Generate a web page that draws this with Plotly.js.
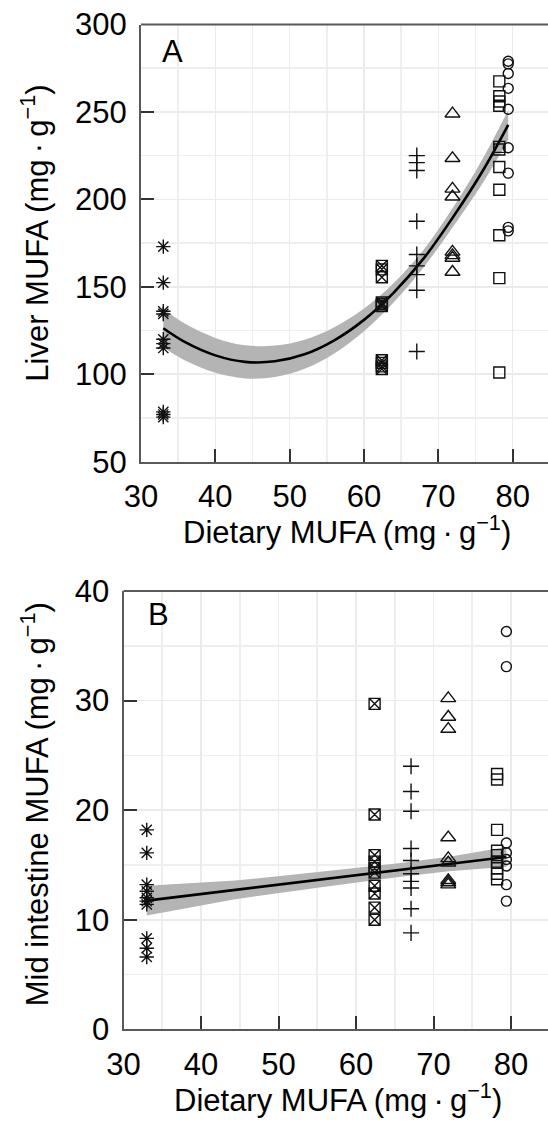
<!DOCTYPE html>
<html>
<head>
<meta charset="utf-8">
<script src="https://cdn.plot.ly/plotly-3.0.1.min.js"></script>
<style>html,body{margin:0;padding:0;background:#fff;}#chart{width:548px;height:1122px;}</style>
</head>
<body>
<div id="chart"></div>
<script>
// Dietary MUFA level of each diet group (mg/g)
const dietaryMUFA = [33.0, 62.4, 67.1, 71.9, 78.2, 79.4];
const groupSymbols = ['asterisk-open', 'square-x-open', 'cross-thin-open', 'triangle-up-open', 'square-open', 'circle-open'];

// Panel A: Liver MUFA (mg/g) per diet group
const liverG1 = [173, 152.4, 136, 134.5, 120, 117.5, 115, 78.5, 77, 75.5];
const liverG2 = [162, 160, 155.5, 141, 140, 139, 108, 106.5, 104.5, 103];
const liverG3 = [225, 221, 216.5, 187.5, 168.5, 162, 157, 148, 113];
const liverG4 = [249, 223.5, 206, 201.5, 170, 168, 166.5, 158.5];
const liverG5 = [267.5, 259, 256, 253.5, 230, 228.5, 218.5, 205.5, 179.5, 155, 101];
const liverG6 = [279, 277.5, 272, 263.5, 251.5, 229.5, 215, 184, 182];

// Panel A fitted quadratic curve and confidence band
const fitAx  = [33, 36, 40, 44, 48, 52, 56, 60, 64, 68, 72, 76, 79.4];
const fitAy  = [126.3, 118.2, 110.8, 107.1, 107.4, 111.4, 119.4, 131.1, 146.7, 166.1, 190.0, 216.5, 242.6];
const fitAlo = [115.3, 107.7, 100.8, 97.6, 98.4, 103.1, 111.9, 124.6, 141.2, 161.1, 184.5, 209.5, 234.1];
const fitAhi = [137.3, 128.7, 120.8, 116.6, 116.4, 119.7, 126.9, 137.6, 152.2, 171.1, 195.5, 223.5, 251.1];

// Panel B: Mid intestine MUFA (mg/g) per diet group
const intG1 = [18.2, 16.1, 13.2, 12.6, 12.0, 11.7, 11.4, 8.3, 7.4, 6.6];
const intG2 = [29.7, 19.6, 15.9, 15.3, 14.7, 14.3, 13.1, 12.4, 11.1, 10.0];
const intG3 = [24.0, 21.7, 19.9, 16.5, 15.4, 14.2, 13.5, 12.9, 11.0, 8.8];
const intG4 = [30.2, 28.5, 27.4, 17.5, 15.6, 15.2, 13.6, 13.4, 13.2];
const intG5 = [23.3, 22.8, 18.2, 16.3, 15.9, 15.3, 14.7, 14.2, 13.7];
const intG6 = [36.3, 33.1, 17.0, 16.1, 15.5, 14.9, 13.2, 11.7];

// Panel B fitted linear regression and confidence band
const fitBx  = [33, 44.4, 56, 65.5, 72, 79.4];
const fitBy  = [11.74, 12.72, 13.72, 14.53, 15.09, 15.73];
const fitBlo = [10.39, 11.87, 13.02, 13.91, 14.43, 14.83];
const fitBhi = [13.09, 13.57, 14.42, 15.15, 15.75, 16.63];

// Tick values
const xTicks = [30, 40, 50, 60, 70, 80];
const yTicksA = [50, 100, 150, 200, 250, 300];
const yTicksB = [0, 10, 20, 30, 40];

const FONT = 'Liberation Sans, Arial, sans-serif';
const sizes = [12, 11, 11.5, 13, 11, 10];

function groupTraces(groups, xa, ya) {
  return groups.map((ys, i) => ({
    type: 'scatter', mode: 'markers', xaxis: xa, yaxis: ya,
    x: ys.map(() => dietaryMUFA[i]), y: ys,
    marker: {symbol: groupSymbols[i], size: sizes[i], color: '#111',
             line: {color: '#111', width: 1.4}},
    hoverinfo: 'skip'
  }));
}
function bandTraces(bx, lo, hi, fy, xa, ya, shape) {
  return [
    {type: 'scatter', mode: 'lines', x: bx, y: lo, xaxis: xa, yaxis: ya,
     line: {width: 0, shape: shape}, hoverinfo: 'skip'},
    {type: 'scatter', mode: 'lines', x: bx, y: hi, xaxis: xa, yaxis: ya,
     line: {width: 0, shape: shape}, fill: 'tonexty', fillcolor: '#b4b4b4', hoverinfo: 'skip'},
    {type: 'scatter', mode: 'lines', x: bx, y: fy, xaxis: xa, yaxis: ya,
     line: {width: 2.6, color: '#000', shape: shape}, hoverinfo: 'skip'}
  ];
}

const data = [].concat(
  bandTraces(fitAx, fitAlo, fitAhi, fitAy, 'x', 'y', 'spline'),
  groupTraces([liverG1, liverG2, liverG3, liverG4, liverG5, liverG6], 'x', 'y'),
  bandTraces(fitBx, fitBlo, fitBhi, fitBy, 'x2', 'y2', 'linear'),
  groupTraces([intG1, intG2, intG3, intG4, intG5, intG6], 'x2', 'y2')
);

const W = 548, H = 1122;
const axCommon = {
  showline: true, linecolor: '#595959', linewidth: 2,
  ticks: 'inside', ticklen: 13, tickwidth: 2, tickcolor: '#333',
  tickfont: {family: FONT, size: 31, color: '#000'},
  showgrid: true, gridcolor: '#ebebeb', gridwidth: 1.6,
  zeroline: false, fixedrange: true
};

const layout = {
  width: W, height: H,
  margin: {l: 0, r: 0, t: 0, b: 0},
  paper_bgcolor: '#fff', plot_bgcolor: '#fff',
  showlegend: false,
  xaxis: Object.assign({}, axCommon, {
    domain: [141 / W, 1], range: [30, 84.75], anchor: 'y',
    tickvals: xTicks, ticklabelstandoff: 6,
    minor: {dtick: 5, tick0: 0, showgrid: true, gridcolor: '#eeeeee', gridwidth: 1.6, ticks: ''}
  }),
  yaxis: Object.assign({}, axCommon, {
    domain: [1 - 461.7 / H, 1 - 24.5 / H], range: [50, 300], anchor: 'x',
    tickvals: yTicksA, ticklabelstandoff: 6,
    minor: {dtick: 25, tick0: 0, showgrid: true, gridcolor: '#eeeeee', gridwidth: 1.6, ticks: ''}
  }),
  xaxis2: Object.assign({}, axCommon, {
    domain: [123.5 / W, 1], range: [30, 84.77], anchor: 'y2',
    tickvals: xTicks, ticklabelstandoff: 6,
    minor: {dtick: 5, tick0: 0, showgrid: true, gridcolor: '#eeeeee', gridwidth: 1.6, ticks: ''}
  }),
  yaxis2: Object.assign({}, axCommon, {
    domain: [1 - 1029.3 / H, 1 - 591 / H], range: [0, 40], anchor: 'x2',
    tickvals: yTicksB, ticklabelstandoff: 6,
    minor: {dtick: 5, tick0: 0, showgrid: true, gridcolor: '#eeeeee', gridwidth: 1.6, ticks: ''}
  }),
  shapes: [
    {type: 'line', xref: 'x domain', yref: 'y domain', x0: 0, x1: 1, y0: 1, y1: 1,
     line: {color: '#595959', width: 2}},
    {type: 'line', xref: 'x2 domain', yref: 'y2 domain', x0: 0, x1: 1, y0: 1, y1: 1,
     line: {color: '#595959', width: 2}}
  ],
  annotations: [
    {text: 'A', xref: 'paper', yref: 'paper', x: 160 / W, y: 1 - 32 / H,
     xanchor: 'left', yanchor: 'top', showarrow: false, font: {family: FONT, size: 31, color: '#000'}},
    {text: 'B', xref: 'paper', yref: 'paper', x: 146 / W, y: 1 - 595 / H,
     xanchor: 'left', yanchor: 'top', showarrow: false, font: {family: FONT, size: 31, color: '#000'}},
    {text: 'Dietary MUFA (mg\u2009·\u2009g<sup>\u22121</sup>)', xref: 'paper', yref: 'paper',
     x: 346.5 / W, y: 1 - 552 / H, xanchor: 'center', yanchor: 'bottom', showarrow: false,
     font: {family: FONT, size: 31, color: '#000'}},
    {text: 'Dietary MUFA (mg\u2009·\u2009g<sup>\u22121</sup>)', xref: 'paper', yref: 'paper',
     x: 337.5 / W, y: 1 - 1120 / H, xanchor: 'center', yanchor: 'bottom', showarrow: false,
     font: {family: FONT, size: 31, color: '#000'}},
    {text: 'Liver MUFA (mg\u2009·\u2009g<sup>\u22121</sup>)', xref: 'paper', yref: 'paper',
     x: 34.7 / W, y: 1 - 233 / H, xanchor: 'center', yanchor: 'middle', textangle: -90, showarrow: false,
     font: {family: FONT, size: 31, color: '#000'}},
    {text: 'Mid intestine MUFA (mg\u2009·\u2009g<sup>\u22121</sup>)', xref: 'paper', yref: 'paper',
     x: 34.7 / W, y: 1 - 804.5 / H, xanchor: 'center', yanchor: 'middle', textangle: -90, showarrow: false,
     font: {family: FONT, size: 31, color: '#000'}}
  ]
};

Plotly.newPlot('chart', data, layout, {staticPlot: true, displayModeBar: false});
</script>
</body>
</html>
